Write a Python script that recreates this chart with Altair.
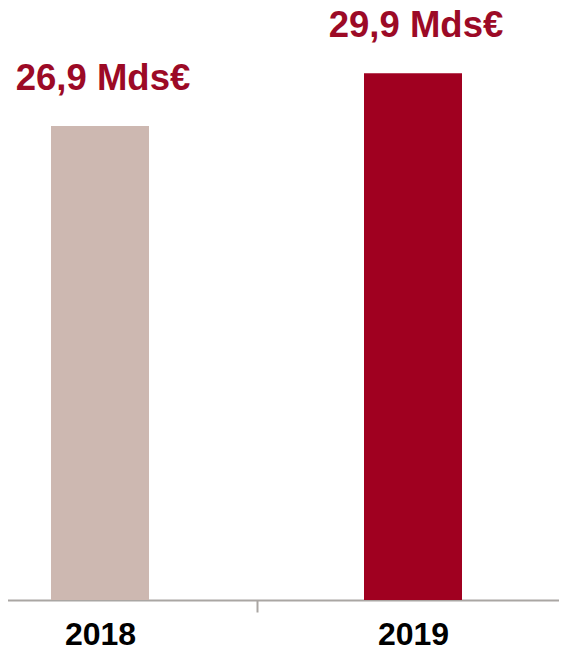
import altair as alt
import pandas as pd

years = ["2018", "2019"]
values = [26.9, 29.9]
labels = ["26,9 Mds€", "29,9 Mds€"]
bar_colors = ["#cdb8b1", "#a00020"]

df = pd.DataFrame({"year": years, "value": values, "label": labels})

x = alt.X(
    "year:N",
    sort=years,
    title=None,
    scale=alt.Scale(range=[-64.5, 561.5], paddingInner=0, paddingOuter=0),
    axis=alt.Axis(
        labelAngle=0,
        labelFont="Liberation Sans",
        labelFontWeight="bold",
        labelFontSize=32,
        labelColor="#000000",
        labelBaseline="alphabetic",
        labelPadding=32,
        domainColor="#aaa6a3",
        domainWidth=2,
        tickColor="#aaa6a3",
        tickWidth=2,
        tickSize=12,
        tickBand="extent",
        grid=False,
    ),
)
y = alt.Y("value:Q", scale=alt.Scale(domain=[0, 33.6], nice=False, zero=True), axis=None)

bars = alt.Chart(df).mark_bar(size=98).encode(
    x=x,
    y=y,
    color=alt.Color("year:N", scale=alt.Scale(domain=years, range=bar_colors), legend=None),
)

text = alt.Chart(df).mark_text(
    font="Liberation Sans",
    fontWeight="bold",
    fontSize=36.5,
    color="#9c0a26",
    baseline="alphabetic",
    align="center",
    dy=-36,
    dx=3,
).encode(x=x, y=y, text="label:N")

chart = (
    alt.layer(bars, text)
    .properties(
        width=551,
        height=592,
        autosize=alt.AutoSizeParams(type="none"),
        padding={"left": 0, "top": 0, "right": 0, "bottom": 46},
    )
    .configure_view(stroke=None)
)

chart.save("out.html", embed_options={"renderer": "svg", "actions": False})
